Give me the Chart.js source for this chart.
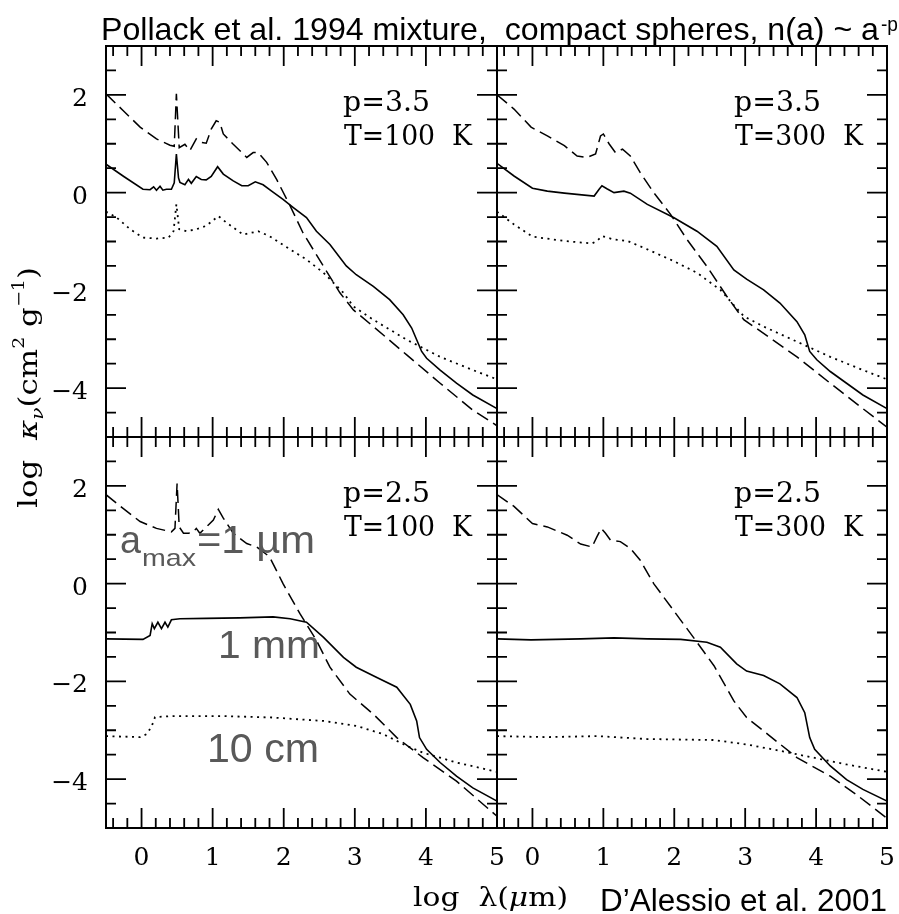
<!DOCTYPE html>
<html>
<head>
<meta charset="utf-8">
<script src="https://cdn.jsdelivr.net/npm/chart.js@4.4.1/dist/chart.umd.min.js"></script>
<style>
html, body { margin: 0; padding: 0; background: #fff; }
#wrap { position: relative; width: 899px; height: 914px; overflow: hidden; background: #fff; }
#wrap canvas { position: absolute; left: 0; top: 0; }
</style>
</head>
<body>
<div id="wrap">
  <canvas id="p0" width="899" height="914"></canvas>
  <canvas id="p1" width="899" height="914"></canvas>
  <canvas id="p2" width="899" height="914"></canvas>
  <canvas id="p3" width="899" height="914"></canvas>
</div>
<script>
// axis ranges and tick labels
const xMajor = [0, 1, 2, 3, 4, 5];
const xTickLabels = ['0', '1', '2', '3', '4', '5'];
const yMajor = [-4, -2, 0, 2];
const yTickLabels = ['\u22124', '\u22122', '0', '2'];
const panelP = ['p=3.5', 'p=3.5', 'p=2.5', 'p=2.5'];
const panelT = ['T=100  K', 'T=300  K', 'T=100  K', 'T=300  K'];

// top left: p=3.5, T=100 K
const tlSolidX = [-0.5,-0.25,0.02,0.12,0.17,0.21,0.26,0.30,0.35,0.42,0.46,0.49,0.52,0.54,0.61,0.66,0.70,0.77,0.84,0.91,0.98,1.07,1.15,1.29,1.41,1.50,1.60,1.71,1.83,1.99,2.14,2.32,2.46,2.65,2.88,3.02,3.26,3.49,3.68,3.80,3.87,3.94,4.01,4.20,4.43,4.66,5.0];
const tlSolidY = [0.58,0.33,0.07,0.06,0.12,0.05,0.13,0.05,0.07,0.07,0.2,0.79,0.3,0.21,0.16,0.27,0.19,0.33,0.27,0.26,0.33,0.53,0.38,0.24,0.14,0.14,0.22,0.16,0.03,-0.14,-0.31,-0.51,-0.79,-1.06,-1.5,-1.68,-1.92,-2.19,-2.5,-2.77,-3.01,-3.25,-3.39,-3.63,-3.9,-4.14,-4.42];
const tlDashX = [-0.5,-0.26,-0.02,0.21,0.40,0.46,0.49,0.53,0.61,0.68,0.77,0.84,0.91,0.98,1.05,1.10,1.15,1.29,1.48,1.57,1.64,1.76,1.90,2.09,2.27,2.56,2.79,2.98,3.26,3.73,4.20,4.66,5.0];
const tlDashY = [2.02,1.68,1.34,1.1,0.97,0.95,2.02,0.92,0.99,0.86,1.1,1.03,1.01,1.3,1.47,1.44,1.2,0.99,0.72,0.82,0.82,0.62,0.27,-0.27,-0.82,-1.51,-2.05,-2.4,-2.74,-3.32,-3.9,-4.45,-4.77];
const tlDotX = [-0.5,-0.35,-0.16,0.02,0.21,0.38,0.45,0.49,0.53,0.63,0.77,0.91,1.08,1.2,1.43,1.64,1.8,2.09,2.32,2.56,2.84,2.98,3.26,3.73,4.2,4.66,5.0];
const tlDotY = [-0.39,-0.51,-0.75,-0.92,-0.94,-0.92,-0.79,-0.24,-0.75,-0.79,-0.75,-0.68,-0.48,-0.62,-0.86,-0.79,-0.89,-1.16,-1.37,-1.64,-2.05,-2.33,-2.6,-3.01,-3.36,-3.63,-3.82];

// top right: p=3.5, T=300 K
const trSolidX = [-0.5,-0.26,0,0.21,0.45,0.87,0.94,0.98,1.05,1.15,1.29,1.38,1.62,1.99,2.32,2.6,2.84,3.02,3.26,3.49,3.73,3.84,3.91,4.01,4.2,4.43,4.66,5.0];
const trSolidY = [0.6,0.34,0.09,0.03,-0.01,-0.07,0.07,0.14,0.08,0,0.03,-0.01,-0.24,-0.51,-0.79,-1.1,-1.58,-1.77,-1.99,-2.26,-2.64,-2.91,-3.25,-3.42,-3.66,-3.9,-4.14,-4.42];
const trDashX = [-0.5,-0.26,-0.02,0.21,0.45,0.63,0.77,0.89,0.96,1.0,1.08,1.17,1.27,1.38,1.52,1.71,1.95,2.18,2.46,2.74,2.98,3.26,3.73,4.2,4.66,5.0];
const trDashY = [2.0,1.71,1.34,1.16,0.96,0.75,0.72,0.79,1.16,1.2,1.0,0.82,0.89,0.75,0.41,0,-0.45,-0.96,-1.51,-2.12,-2.6,-2.88,-3.36,-3.9,-4.42,-4.8];
const trDotX = [-0.5,-0.26,0,0.45,0.84,0.91,0.98,1.15,1.34,1.62,1.99,2.32,2.65,2.98,3.26,3.73,4.2,4.66,5.0];
const trDotY = [-0.39,-0.65,-0.9,-0.99,-1.04,-0.99,-0.89,-0.96,-0.99,-1.16,-1.4,-1.64,-1.99,-2.53,-2.74,-3.05,-3.36,-3.63,-3.82];

// bottom left: p=2.5, T=100 K
const blSolidX = [-0.5,0.02,0.12,0.15,0.18,0.23,0.28,0.33,0.37,0.42,0.54,0.91,1.38,1.85,2.09,2.32,2.56,2.84,3.02,3.31,3.59,3.78,3.87,3.91,4.01,4.2,4.43,4.66,5.0];
const blSolidY = [-1.13,-1.14,-1.06,-0.82,-0.92,-0.79,-0.92,-0.79,-0.89,-0.74,-0.72,-0.71,-0.7,-0.68,-0.72,-0.79,-1.1,-1.51,-1.71,-1.92,-2.12,-2.47,-2.81,-3.15,-3.39,-3.66,-3.94,-4.18,-4.45];
const blDashX = [-0.5,-0.26,-0.02,0.21,0.42,0.47,0.5,0.53,0.59,0.66,0.73,0.77,0.82,0.94,1.01,1.08,1.15,1.29,1.48,1.62,1.8,1.99,2.23,2.46,2.65,2.93,3.26,3.59,3.96,4.43,5.0];
const blDashY = [1.82,1.54,1.27,1.13,1.06,1.13,2.05,1.16,1.03,1.03,1.06,1.13,1.03,1.2,1.3,1.52,1.34,1.03,0.82,0.75,0.55,0,-0.62,-1.16,-1.71,-2.26,-2.67,-3.15,-3.56,-4.04,-4.76];
const blDotX = [-0.5,-0.02,0.07,0.14,0.19,0.45,1.15,1.85,2.56,3.02,3.4,3.73,3.96,4.43,5.0];
const blDotY = [-3.12,-3.14,-3.08,-2.93,-2.73,-2.71,-2.71,-2.74,-2.81,-2.91,-3.08,-3.32,-3.46,-3.66,-3.85];

// bottom right: p=2.5, T=300 K
const brSolidX = [-0.5,-0.02,0.68,1.15,1.62,2.09,2.46,2.65,2.88,3.02,3.26,3.49,3.73,3.84,3.91,3.98,4.2,4.43,4.66,5.0];
const brSolidY = [-1.13,-1.15,-1.13,-1.11,-1.13,-1.14,-1.2,-1.3,-1.64,-1.79,-1.88,-2.05,-2.33,-2.64,-3.15,-3.39,-3.73,-4.01,-4.21,-4.45];
const brDashX = [-0.5,-0.26,0,0.21,0.49,0.68,0.84,0.91,0.97,1.03,1.1,1.24,1.38,1.52,1.71,1.99,2.27,2.56,2.84,3.02,3.35,3.73,4.2,4.57,5.0];
const brDashY = [1.82,1.58,1.23,1.16,0.99,0.81,0.75,0.96,1.13,1.03,0.89,0.86,0.72,0.48,0,-0.55,-1.1,-1.68,-2.4,-2.74,-3.12,-3.56,-3.94,-4.32,-4.8];
const brDotX = [-0.5,0.21,0.91,1.62,2.56,3.02,3.49,3.96,4.43,5.0];
const brDotY = [-3.12,-3.14,-3.12,-3.18,-3.2,-3.29,-3.42,-3.56,-3.7,-3.85];

const SERIF = '"DejaVu Serif", serif';
const SANS = '"Liberation Sans", Arial, sans-serif';
const GREY = '#595959';

// panel frame edges in page pixels
const colEdges = [106, 497, 887];
const rowEdges = [46, 437, 828];

function pts(xs, ys) {
    return xs.map((x, i) => ({ x: x, y: ys[i] }));
}

// draws a row of text pieces, squeezed or stretched to a given width
function richText(ctx, segs, x, y, width, angle) {
    let total = 0;
    segs.forEach(s => { ctx.font = s.font; s.w = ctx.measureText(s.t).width; total += s.w; });
    ctx.save();
    ctx.translate(x, y);
    if (angle) ctx.rotate(angle);
    if (width) ctx.scale(width / total, 1);
    ctx.textAlign = 'left';
    ctx.textBaseline = 'alphabetic';
    let cx = 0;
    segs.forEach(s => { ctx.font = s.font; ctx.fillText(s.t, cx, s.dy || 0); cx += s.w; });
    ctx.restore();
}

const framePlugin = {
    id: 'frame',
    afterDatasetsDraw(chart, args, opts) {
        const ctx = chart.ctx;
        const a = chart.chartArea;
        const x = chart.scales.x, y = chart.scales.y;
        ctx.save();
        ctx.strokeStyle = '#000';
        ctx.lineWidth = 1.8;
        ctx.beginPath();
        for (let i = -2; i <= 25; i++) {
            const px = x.getPixelForValue(i / 5);
            const len = i % 5 === 0 ? 20 : 10;
            ctx.moveTo(px, a.bottom); ctx.lineTo(px, a.bottom - len);
            ctx.moveTo(px, a.top); ctx.lineTo(px, a.top + len);
        }
        for (let j = -9; j <= 5; j++) {
            const py = y.getPixelForValue(j / 2);
            const len = j % 4 === 0 ? 20 : 10;
            ctx.moveTo(a.left, py); ctx.lineTo(a.left + len, py);
            ctx.moveTo(a.right, py); ctx.lineTo(a.right - len, py);
        }
        ctx.stroke();
        ctx.lineWidth = 2;
        ctx.strokeRect(a.left, a.top, a.right - a.left, a.bottom - a.top);

        ctx.fillStyle = '#000';
        ctx.font = '25px ' + SERIF;
        if (opts.row === 1) {
            ctx.textAlign = 'center';
            ctx.textBaseline = 'alphabetic';
            xMajor.forEach((v, k) => ctx.fillText(xTickLabels[k], x.getPixelForValue(v), 865));
        }
        if (opts.col === 0) {
            ctx.textAlign = 'right';
            ctx.textBaseline = 'alphabetic';
            yMajor.forEach((v, k) => ctx.fillText(yTickLabels[k], 88, y.getPixelForValue(v) + 11));
        }
        richText(ctx, [{ t: panelP[opts.idx], font: '27px ' + SERIF }], a.left + 237, a.top + 65, 87);
        richText(ctx, [{ t: panelT[opts.idx], font: '27px ' + SERIF }], a.left + 238, a.top + 99, 128);

        if (opts.idx === 2) {
            ctx.fillStyle = GREY;
            richText(ctx, [{ t: 'a', font: '39px ' + SANS }], 120, 553, 21);
            richText(ctx, [{ t: 'max', font: '24px ' + SANS }], 142, 566, 54);
            richText(ctx, [{ t: '=1 \u00b5m', font: '39px ' + SANS }], 197, 553, 118);
            richText(ctx, [{ t: '1 mm', font: '39px ' + SANS }], 218, 658, 102);
            richText(ctx, [{ t: '10 cm', font: '40px ' + SANS }], 207, 762, 112);
        }
        if (opts.idx === 3) {
            ctx.fillStyle = '#000';
            richText(ctx, [{ t: 'Pollack et al. 1994 mixture,  compact spheres, n(a) ~ a', font: '32px ' + SANS }], 101, 40, 778);
            richText(ctx, [{ t: '-p', font: '20px ' + SANS }], 881, 31, 17);
            richText(ctx, [{ t: 'D\u2019Alessio et al. 2001', font: '31px ' + SANS }], 600, 911, 287);
            richText(ctx, [
                { t: 'log  \u03bb(', font: '26px ' + SERIF },
                { t: '\u03bc', font: 'italic 26px ' + SERIF },
                { t: 'm)', font: '26px ' + SERIF }
            ], 413, 906, 155);
            richText(ctx, [
                { t: 'log  ', font: '26px ' + SERIF },
                { t: '\u03ba', font: 'italic 26px ' + SERIF },
                { t: '\u03bd', font: 'italic 17px ' + SERIF, dy: 6 },
                { t: '(cm', font: '26px ' + SERIF },
                { t: '2', font: '16px ' + SERIF, dy: -13 },
                { t: ' g', font: '26px ' + SERIF },
                { t: '\u22121', font: '16px ' + SERIF, dy: -13 },
                { t: ')', font: '26px ' + SERIF }
            ], 37, 508, 241, -Math.PI / 2);
        }
        ctx.restore();
    }
};

const panels = [
    { solid: pts(tlSolidX, tlSolidY), dash: pts(tlDashX, tlDashY), dot: pts(tlDotX, tlDotY) },
    { solid: pts(trSolidX, trSolidY), dash: pts(trDashX, trDashY), dot: pts(trDotX, trDotY) },
    { solid: pts(blSolidX, blSolidY), dash: pts(blDashX, blDashY), dot: pts(blDotX, blDotY) },
    { solid: pts(brSolidX, brSolidY), dash: pts(brDashX, brDashY), dot: pts(brDotX, brDotY) }
];

panels.forEach((p, idx) => {
    const col = idx % 2, row = Math.floor(idx / 2);
    new Chart(document.getElementById('p' + idx), {
        type: 'scatter',
        data: {
            datasets: [
                { data: p.dash, showLine: true, borderColor: '#000', borderWidth: 1.5, borderDash: [13, 6] },
                { data: p.solid, showLine: true, borderColor: '#000', borderWidth: 1.6 },
                { data: p.dot, showLine: true, borderColor: '#000', borderWidth: 1.8, borderDash: [2, 4.5] }
            ]
        },
        options: {
            responsive: false,
            animation: false,
            devicePixelRatio: 1,
            events: [],
            layout: {
                padding: {
                    left: colEdges[col],
                    right: 899 - colEdges[col + 1],
                    top: rowEdges[row],
                    bottom: 914 - rowEdges[row + 1]
                }
            },
            elements: { point: { radius: 0 }, line: { tension: 0 } },
            plugins: {
                legend: { display: false },
                tooltip: { enabled: false },
                frame: { idx: idx, col: col, row: row }
            },
            scales: {
                x: { type: 'linear', min: -0.5, max: 5, display: false },
                y: { type: 'linear', min: -5, max: 3, display: false }
            }
        },
        plugins: [framePlugin]
    });
});
</script>
</body>
</html>
